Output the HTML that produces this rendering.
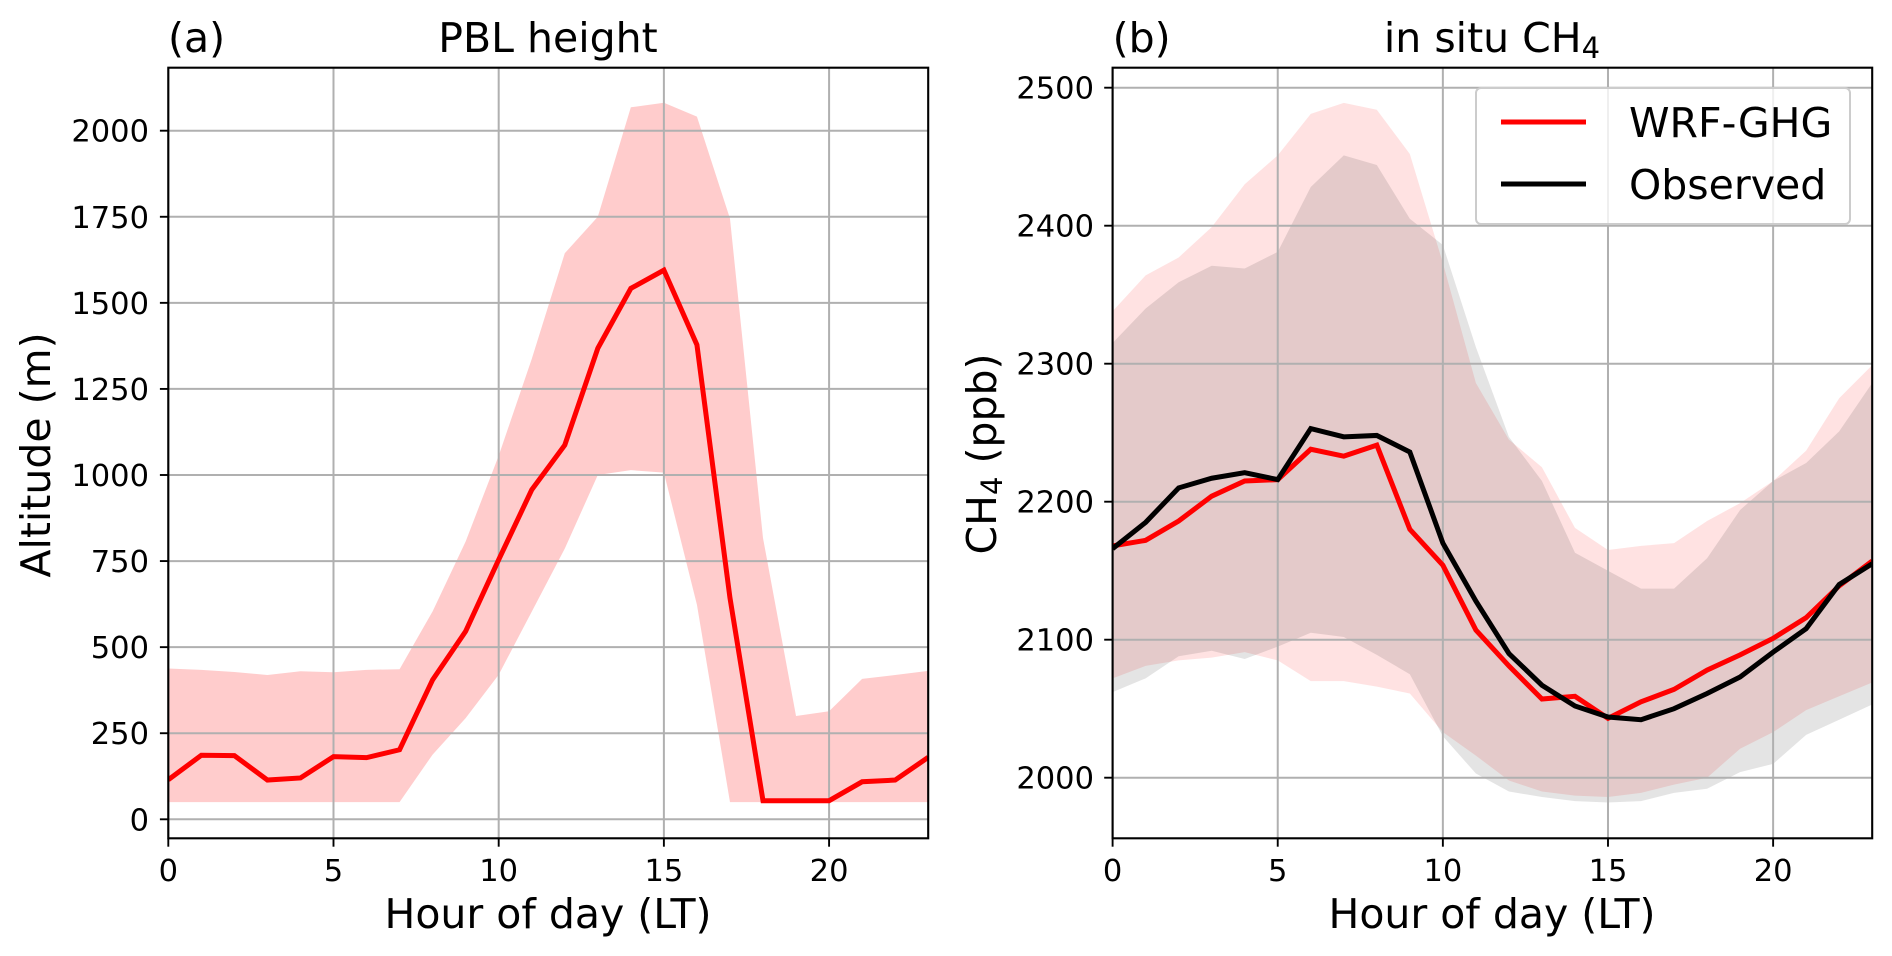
<!DOCTYPE html>
<html lang="en">
<head>
<meta charset="utf-8">
<title>PBL height and in situ CH4</title>
<style>
  html, body { margin: 0; padding: 0; background: #fff; }
  body { width: 1892px; height: 956px; overflow: hidden; }
  svg { display: block; }
  text { font-family: "DejaVu Sans", "Liberation Sans", sans-serif; fill: #000; }
  .tick { font-size: 30.5px; }
  .big { font-size: 41px; }
</style>
</head>
<body>
<svg id="figure" xmlns="http://www.w3.org/2000/svg" width="1892" height="956" viewBox="0 0 1892 956">
  <defs>
    <clipPath id="clip-a"><rect x="168.3" y="67.7" width="759.9" height="770.6"></rect></clipPath>
    <clipPath id="clip-b"><rect x="1112.6" y="67.7" width="759.6" height="770.6"></rect></clipPath>
  </defs>
  <g id="panel-a"></g>
  <g id="panel-b"></g>

  <text class="big" x="168" y="52">(a)</text>
  <text class="big" x="548" y="52" text-anchor="middle">PBL height</text>
  <text class="big" x="548" y="928" text-anchor="middle">Hour of day (LT)</text>
  <text class="big" transform="translate(50 455) rotate(-90)" text-anchor="middle">Altitude (m)</text>

  <text class="big" x="1112.6" y="52">(b)</text>
  <text class="big" x="1492" y="52" text-anchor="middle">in situ CH<tspan font-size="29" dy="6">4</tspan></text>
  <text class="big" x="1492" y="928" text-anchor="middle">Hour of day (LT)</text>
  <text class="big" transform="translate(996 454) rotate(-90)" text-anchor="middle">CH<tspan font-size="29" dy="6">4</tspan><tspan dy="-6"> (ppb)</tspan></text>

  <g id="legend">
    <rect x="1476" y="88" width="374" height="136" rx="5" ry="5" fill="#fff" fill-opacity="0.8" stroke="#cccccc" stroke-width="2"></rect>
    <line x1="1501" x2="1586" y1="122" y2="122" stroke="#ff0000" stroke-width="5"></line>
    <text class="big" x="1629" y="137">WRF-GHG</text>
    <line x1="1501" x2="1586" y1="184" y2="184" stroke="#000000" stroke-width="5"></line>
    <text class="big" x="1629" y="199">Observed</text>
  </g>
</svg>

<script>
const hours = [0,1,2,3,4,5,6,7,8,9,10,11,12,13,14,15,16,17,18,19,20,21,22,23];
const xTicks = [0,5,10,15,20];

// Panel (a): PBL height in metres
const pblTicks = [0,250,500,750,1000,1250,1500,1750,2000];
const pblMean  = [115,186,185,114,120,182,179,202,405,546,754,957,1087,1368,1542,1595,1378,643,54,54,54,109,114,180];
const pblUpper = [438,434,428,419,430,427,434,436,604,807,1056,1337,1644,1750,2068,2081,2041,1745,817,300,314,408,419,431];
const pblLower = [50,50,50,50,50,50,50,50,188,294,420,603,786,1000,1014,1007,623,50,50,50,50,50,50,50];

// Panel (b): in situ CH4 in ppb
const ch4Ticks = [2000,2100,2200,2300,2400,2500];
const wrfMean  = [2168,2172,2186,2204,2215,2216,2238,2233,2241,2180,2154,2107,2081,2057,2059,2043,2055,2064,2078,2089,2101,2116,2139,2157];
const wrfUpper = [2338,2364,2377,2399,2430,2451,2481,2489,2484,2452,2373,2286,2245,2225,2181,2165,2168,2170,2186,2199,2215,2237,2275,2299];
const wrfLower = [2072,2081,2085,2087,2091,2085,2070,2070,2066,2061,2033,2016,1998,1990,1987,1986,1989,1995,2000,2021,2033,2049,2059,2069];
const obsMean  = [2166,2185,2210,2217,2221,2216,2253,2247,2248,2236,2170,2128,2090,2067,2052,2044,2042,2050,2061,2073,2091,2108,2140,2155];
const obsUpper = [2315,2340,2359,2371,2369,2381,2428,2451,2444,2405,2386,2312,2247,2215,2163,2150,2137,2137,2159,2194,2215,2228,2251,2286];
const obsLower = [2062,2072,2088,2092,2086,2095,2105,2102,2089,2075,2030,2003,1990,1986,1983,1982,1983,1989,1992,2004,2010,2031,2042,2053];

const NS = 'http://www.w3.org/2000/svg';

function mk(parent, tag, attrs) {
  const el = document.createElementNS(NS, tag);
  for (const k in attrs) el.setAttribute(k, attrs[k]);
  parent.appendChild(el);
  return el;
}

function linear(d0, d1, r0, r1) {
  return v => r0 + (v - d0) * (r1 - r0) / (d1 - d0);
}

function pointsOf(xs, ys, sx, sy) {
  return xs.map((x, i) => sx(x).toFixed(2) + ',' + sy(ys[i]).toFixed(2));
}

function drawBand(g, up, lo, fill, opacity, sx, sy, clip, name) {
  const pts = pointsOf(hours, up, sx, sy).concat(pointsOf(hours, lo, sx, sy).reverse());
  const el = mk(g, 'polygon', { points: pts.join(' '), fill: fill, 'fill-opacity': opacity, 'clip-path': 'url(#' + clip + ')' });
  
  
}

function drawLine(g, ys, stroke, sx, sy, clip, name) {
  const el = mk(g, 'polyline', { points: pointsOf(hours, ys, sx, sy).join(' '), fill: 'none', stroke: stroke, 'stroke-width': 5, 'stroke-linejoin': 'miter', 'clip-path': 'url(#' + clip + ')' });
  
  
}

function drawGridAndTicks(g, box, sx, sy, yTicks, tickRight) {
  xTicks.forEach(t => {
    const x = sx(t);
    const grid = mk(g, 'line', { x1: x, x2: x, y1: box.top, y2: box.bottom, stroke: '#b0b0b0', 'stroke-width': 2 });
    
    
    const mark = mk(g, 'line', { x1: x, x2: x, y1: box.bottom, y2: box.bottom + 8.4, stroke: '#000', 'stroke-width': 1.9 });
    
    
    const label = mk(g, 'text', { x: x, y: 881, class: 'tick', 'text-anchor': 'middle' });
    
    
    label.textContent = String(t);
  });
  yTicks.forEach(t => {
    const y = sy(t);
    const grid = mk(g, 'line', { x1: box.left, x2: box.right, y1: y, y2: y, stroke: '#b0b0b0', 'stroke-width': 2 });
    
    
    const mark = mk(g, 'line', { x1: box.left - 8.4, x2: box.left, y1: y, y2: y, stroke: '#000', 'stroke-width': 1.9 });
    
    
    const label = mk(g, 'text', { x: tickRight, y: y + 11, class: 'tick', 'text-anchor': 'end' });
    
    
    label.textContent = String(t);
  });
}

function drawFrame(g, box) {
  const el = mk(g, 'rect', { x: box.left, y: box.top, width: box.right - box.left, height: box.bottom - box.top, fill: 'none', stroke: '#000', 'stroke-width': 2.1 });
  
  
}

// Panel (a)
const boxA = { left: 168.3, right: 928.2, top: 67.7, bottom: 838.3 };
const sxA = linear(0, 23, boxA.left, boxA.right);
const syA = linear(0, 2000, 819.3, 130.7);
const gA = document.getElementById('panel-a');
drawBand(gA, pblUpper, pblLower, '#ff0000', 0.2, sxA, syA, 'clip-a', 'pbl-range-band');
drawGridAndTicks(gA, boxA, sxA, syA, pblTicks, 149);
drawLine(gA, pblMean, '#ff0000', sxA, syA, 'clip-a', 'pbl-mean-line');
drawFrame(gA, boxA);

// Panel (b)
const boxB = { left: 1112.6, right: 1872.2, top: 67.7, bottom: 838.3 };
const sxB = linear(0, 23, boxB.left, boxB.right);
const syB = linear(2000, 2500, 777.7, 87.7);
const gB = document.getElementById('panel-b');
drawBand(gB, wrfUpper, wrfLower, '#ff0000', 0.115, sxB, syB, 'clip-b', 'wrf-ghg-range-band');
drawBand(gB, obsUpper, obsLower, '#000000', 0.105, sxB, syB, 'clip-b', 'observed-range-band');
drawGridAndTicks(gB, boxB, sxB, syB, ch4Ticks, 1094);
drawLine(gB, wrfMean, '#ff0000', sxB, syB, 'clip-b', 'wrf-ghg-mean-line');
drawLine(gB, obsMean, '#000000', sxB, syB, 'clip-b', 'observed-mean-line');
drawFrame(gB, boxB);
</script>
</body>
</html>
